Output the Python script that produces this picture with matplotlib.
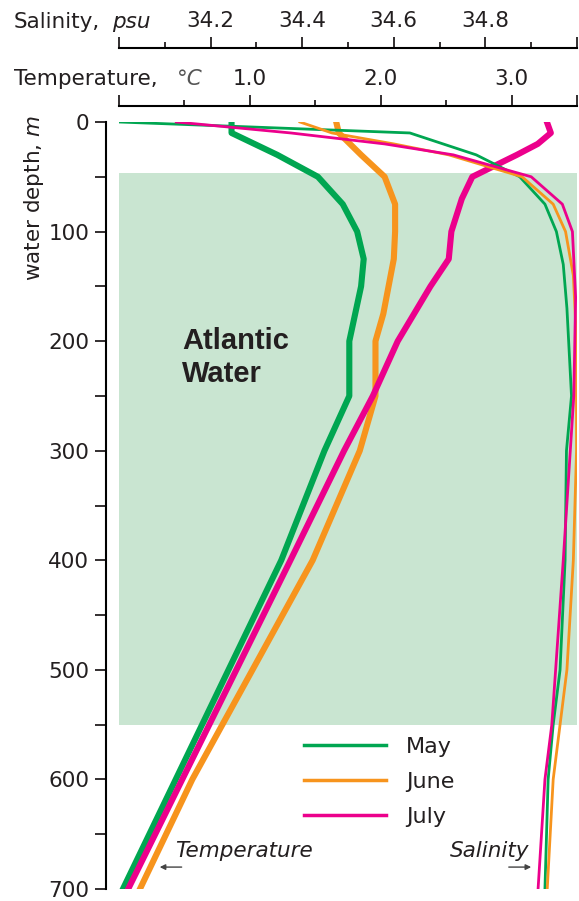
import numpy as np
import matplotlib
matplotlib.use('Agg')
import matplotlib.pyplot as plt
from matplotlib.lines import Line2D

plt.rcParams['font.family'] = ['DejaVu Sans']
plt.rcParams['mathtext.fontset'] = 'dejavusans'

# temperature profiles (thick lines), degC vs depth m
depth_t_may = [0, 10, 30, 50, 75, 100, 125, 150, 200, 250, 300, 400, 700]
temp_may = [0.86, 0.86, 1.21, 1.52, 1.71, 1.82, 1.87, 1.85, 1.76, 1.76, 1.57, 1.24, 0.03]

depth_t_june = [0, 10, 30, 50, 75, 100, 125, 175, 200, 250, 300, 400, 600, 700]
temp_june = [1.66, 1.68, 1.85, 2.03, 2.11, 2.11, 2.10, 2.02, 1.96, 1.96, 1.84, 1.48, 0.56, 0.16]

depth_t_july = [0, 10, 20, 30, 50, 70, 100, 125, 150, 200, 250, 300, 400, 700]
temp_july = [3.27, 3.30, 3.20, 3.04, 2.70, 2.62, 2.54, 2.52, 2.38, 2.13, 1.94, 1.72, 1.31, 0.07]

# salinity profiles (thin lines), psu vs depth m
depth_s_may = [0, 10, 30, 50, 75, 100, 130, 170, 250, 300, 400, 500, 550, 600, 700]
sal_may = [34.00, 34.635, 34.78, 34.875, 34.93, 34.955, 34.97, 34.978, 34.988, 34.977,
           34.974, 34.963, 34.948, 34.937, 34.930]

depth_s_june = [0, 10, 20, 30, 50, 75, 100, 140, 200, 300, 400, 500, 550, 600, 700]
sal_june = [34.395, 34.465, 34.60, 34.72, 34.88, 34.948, 34.975, 34.992, 34.999, 34.999,
            34.992, 34.978, 34.963, 34.948, 34.935]

depth_s_july = [0, 10, 20, 30, 50, 75, 100, 160, 250, 400, 550, 600, 700]
sal_july = [34.125, 34.375, 34.58, 34.73, 34.90, 34.968, 34.99, 34.997, 34.993, 34.970,
            34.945, 34.930, 34.915]

months = ['May', 'June', 'July']
colors = ['#00a651', '#f7941d', '#ec008c']

# Atlantic Water layer (m)
aw_top, aw_bottom = 47, 550

temp_ticks = [0, 1, 2, 3, 3.5]
temp_labels = ['', '1.0', '2.0', '3.0', '']
sal_ticks = [34.0, 34.2, 34.4, 34.6, 34.8, 35.0]
sal_labels = ['', '34.2', '34.4', '34.6', '34.8', '']

txt = '#231f20'
W, H = 579, 901
fig = plt.figure(figsize=(W / 100, H / 100), dpi=100)
ax = fig.add_axes([119 / W, 12 / H, 458 / W, 767 / H])
ax.patch.set_alpha(0)

ax.axhspan(aw_top, aw_bottom, color='#c9e5d1', lw=0, zorder=0)

for d, t, c in zip([depth_t_may, depth_t_june, depth_t_july],
                   [temp_may, temp_june, temp_july], colors):
    ax.plot(t, d, color=c, lw=4.4, zorder=3)

ax.set_xlim(0, 3.5)
ax.set_ylim(700, 0)

# salinity on a second x axis further up
ax2 = ax.twiny()
for d, s, c in zip([depth_s_may, depth_s_june, depth_s_july],
                   [sal_may, sal_june, sal_july], colors):
    ax2.plot(s, d, color=c, lw=2.0, zorder=3)
ax2.set_xlim(34, 35)
ax2.set_ylim(700, 0)

# spines
for a in (ax, ax2):
    a.spines['right'].set_visible(False)
    a.spines['bottom'].set_visible(False)
ax2.spines['left'].set_visible(False)
ax.spines['left'].set_position(('outward', 9.4))
ax.spines['top'].set_position(('outward', 11.5))
ax2.spines['top'].set_position(('outward', 53.3))
for a in (ax, ax2):
    for sp in a.spines.values():
        sp.set_linewidth(1.5)

ax.xaxis.tick_top()
ax.set_xticks(temp_ticks)
ax.set_xticklabels(temp_labels)
ax.set_xticks([0.5, 1.5, 2.5], minor=True)
ax2.set_xticks(sal_ticks)
ax2.set_xticklabels(sal_labels)
ax2.set_xticks([34.1, 34.3, 34.5, 34.7, 34.9], minor=True)

ax.set_yticks(np.arange(0, 701, 100))
ax.set_yticks(np.arange(50, 700, 100), minor=True)

for a in (ax, ax2):
    a.tick_params(axis='x', which='major', length=8, width=1.3, labelsize=15.5,
                  pad=4, colors=txt)
    a.tick_params(axis='x', which='minor', length=4, width=1.3, colors=txt)
ax.tick_params(axis='y', which='both', length=8, width=1.3, labelsize=15.5, pad=4, colors=txt)
ax2.tick_params(axis='y', which='both', left=False, labelleft=False)

# axis titles
fig.text(14 / W, 1 - 28 / H, 'Salinity,', fontsize=15.5, color=txt, va='baseline')
fig.text(112 / W, 1 - 28 / H, 'psu', fontsize=15.5, color=txt, va='baseline', style='italic')
fig.text(14 / W, 1 - 85 / H, 'Temperature,', fontsize=15.5, color=txt, va='baseline')
fig.text(177 / W, 1 - 85 / H, '°C', fontsize=15.5, color='#555555', va='baseline', style='italic')
fig.text(34 / W, 1 - 198 / H, r'water depth, $\mathit{m}$', fontsize=15.5, color=txt,
         rotation=90, ha='center', va='center')

ax.text(0.48, 207, 'Atlantic', family='Liberation Sans', weight='bold', fontsize=21,
        color=txt, va='baseline')
ax.text(0.48, 237, 'Water', family='Liberation Sans', weight='bold', fontsize=21,
        color=txt, va='baseline')

# bottom notes with arrows
ax.text(0.43, 671, 'Temperature', style='italic', fontsize=15.5, color=txt, va='baseline')
ax.annotate('', xy=(0.29, 680), xytext=(0.50, 680),
            arrowprops=dict(arrowstyle='-|>', color='#444444', lw=1, mutation_scale=8))
ax2.text(34.723, 671, 'Salinity', style='italic', fontsize=15.5, color=txt, va='baseline')
ax2.annotate('', xy=(34.906, 680), xytext=(34.845, 680),
             arrowprops=dict(arrowstyle='-|>', color='#444444', lw=1, mutation_scale=8))

handles = [Line2D([], [], color=c, lw=2.5) for c in colors]
ax.legend(handles, months, loc='upper left', bbox_to_anchor=(304 / W, 1 - 737 / H),
          bbox_transform=fig.transFigure, frameon=False, fontsize=16, handlelength=3.7,
          handletextpad=0.9, labelspacing=0.68, borderpad=0, borderaxespad=0,
          labelcolor=txt)

fig.savefig('out.png', dpi=100)
